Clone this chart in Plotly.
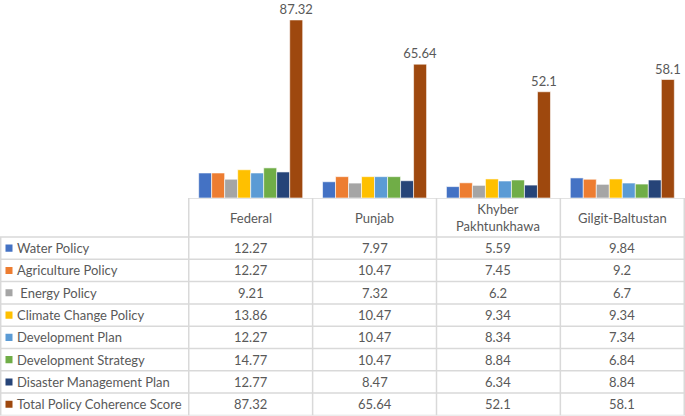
import plotly.graph_objects as go

regions = ["Federal", "Punjab", "Khyber Pakhtunkhawa", "Gilgit-Baltustan"]
header_labels = ["Federal", "Punjab", "Khyber<br>Pakhtunkhawa", "Gilgit-Baltustan"]

series_names = [
    "Water Policy", "Agriculture Policy", " Energy Policy", "Climate Change Policy",
    "Development Plan", "Development Strategy", "Disaster Management Plan",
    "Total Policy Coherence Score",
]
water = [12.27, 7.97, 5.59, 9.84]
agriculture = [12.27, 10.47, 7.45, 9.2]
energy = [9.21, 7.32, 6.2, 6.7]
climate = [13.86, 10.47, 9.34, 9.34]
dev_plan = [12.27, 10.47, 8.34, 7.34]
dev_strategy = [14.77, 10.47, 8.84, 6.84]
disaster = [12.77, 8.47, 6.34, 8.84]
total = [87.32, 65.64, 52.1, 58.1]
series_values = [water, agriculture, energy, climate, dev_plan, dev_strategy, disaster, total]

COLORS = ["#4472C4", "#ED7D31", "#A5A5A5", "#FFC000", "#5B9BD5", "#70AD47", "#264478", "#9E480E"]
TEXT = "#595959"
GRID = "#D9D9D9"
FONT = "Lato"

W, H = 685, 416
LEFT_COL = 188          # width of the legend column in px
TABLE_TOP = 218 / H     # paper y where the bar baseline / table top sits

fig = go.Figure()
for i, (name, vals) in enumerate(zip(series_names, series_values)):
    is_total = i == len(series_names) - 1
    fig.add_bar(
        x=regions, y=vals, name=name,
        marker=dict(color=COLORS[i], line=dict(color="white", width=0.6)),
        text=[str(v) for v in vals] if is_total else None,
        textposition="outside" if is_total else None,
        textfont=dict(size=13, color=TEXT, family=FONT),
        constraintext="none", cliponaxis=False, showlegend=False,
    )

# table: row lines, column lines and cell text on a hidden y2 axis
n_rows = len(series_names)
HEADER = 1.75
shapes = []
for k in range(n_rows + 1):
    shapes.append(dict(type="line", xref="paper", yref="y2", x0=0, x1=1, y0=k, y1=k,
                       line=dict(color=GRID, width=1.5)))
shapes.append(dict(type="line", xref="x", yref="y2", x0=-0.5, x1=len(regions) - 0.5,
                   y0=-HEADER, y1=-HEADER, line=dict(color=GRID, width=1.5)))
shapes.append(dict(type="line", xref="paper", yref="y2", x0=0.001, x1=0.001, y0=0, y1=n_rows,
                   line=dict(color=GRID, width=1.5)))
for c in range(len(regions) + 1):
    shapes.append(dict(type="line", xref="x", yref="y2", x0=c - 0.5, x1=c - 0.5,
                       y0=-HEADER, y1=n_rows, line=dict(color=GRID, width=1.5)))
for i in range(n_rows):
    shapes.append(dict(type="rect", xref="paper", yref="y2", x0=5.5 / W, x1=12.5 / W,
                       y0=i + 0.5 - 0.16, y1=i + 0.5 + 0.16,
                       fillcolor=COLORS[i], line=dict(width=0)))

annotations = []
for c, lab in enumerate(header_labels):
    annotations.append(dict(x=regions[c], y=-HEADER / 2, xref="x", yref="y2", text=lab,
                            showarrow=False, font=dict(size=13, color=TEXT, family=FONT)))
for i, (name, vals) in enumerate(zip(series_names, series_values)):
    annotations.append(dict(x=14.5 / W, y=i + 0.5, xref="paper", yref="y2", text=name,
                            xanchor="left", showarrow=False,
                            font=dict(size=13, color=TEXT, family=FONT)))
    for c, v in enumerate(vals):
        annotations.append(dict(x=regions[c], y=i + 0.5, xref="x", yref="y2", text=str(v),
                                showarrow=False, font=dict(size=13, color=TEXT, family=FONT)))

fig.update_layout(
    width=W, height=H, margin=dict(l=0, r=0, t=0, b=0),
    plot_bgcolor="white", paper_bgcolor="white",
    barmode="group", bargap=0.16, bargroupgap=0,
    font=dict(family=FONT, color=TEXT),
    xaxis=dict(domain=[LEFT_COL / W, 1], showticklabels=False, showline=False,
               showgrid=False, zeroline=False),
    yaxis=dict(domain=[TABLE_TOP, 1], range=[0, 97.1], visible=False),
    yaxis2=dict(domain=[0.6 / H, TABLE_TOP], range=[n_rows, -HEADER], visible=False,
                anchor="x"),
    shapes=shapes, annotations=annotations,
)
fig.write_html("out.html", config={"displayModeBar": False},
               post_script="document.body.style.margin='0';")
